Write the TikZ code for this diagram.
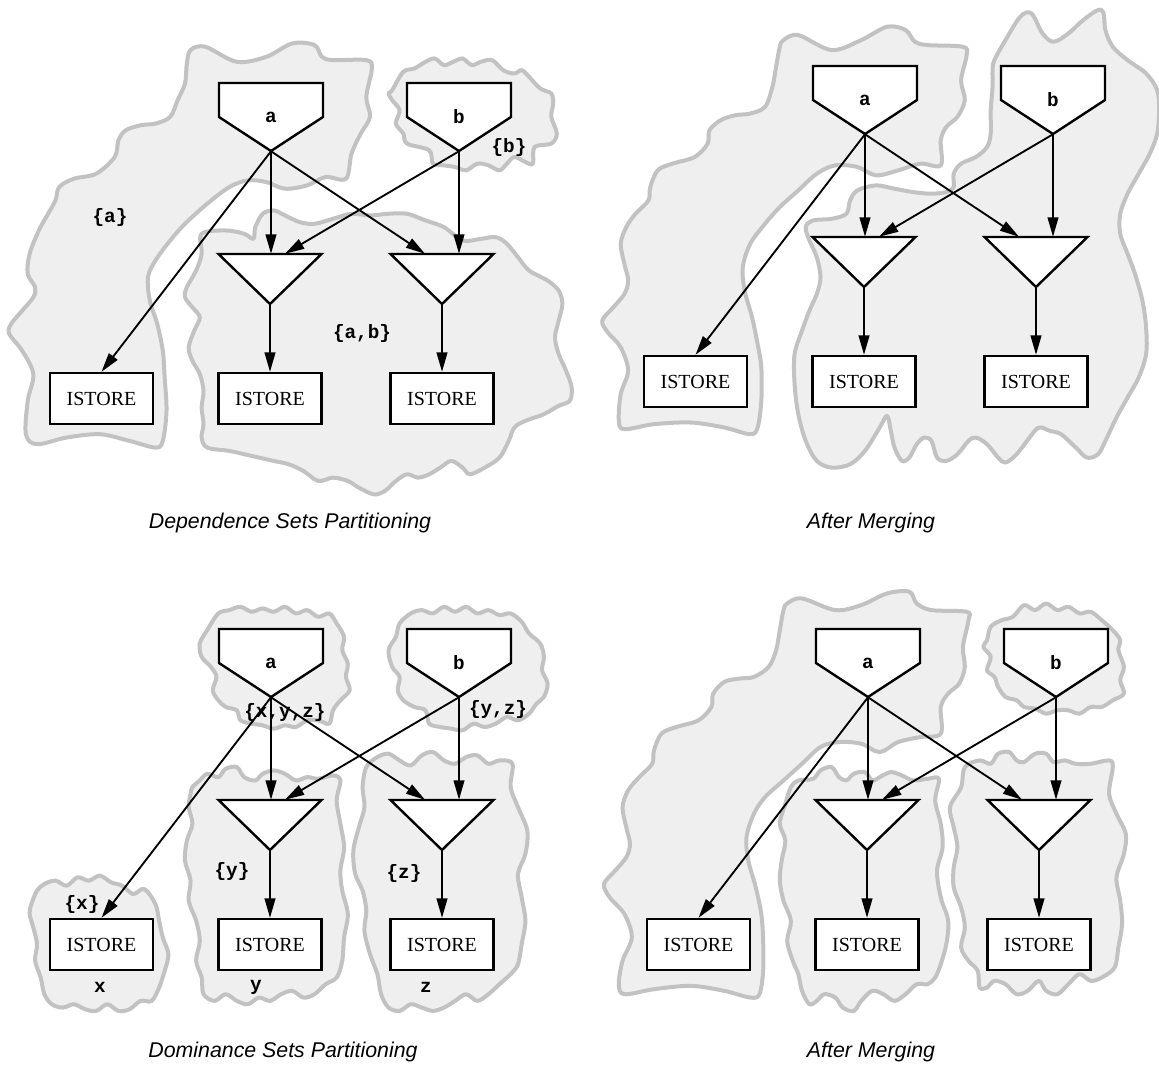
\documentclass[tikz,border=0pt]{standalone}
\usepackage{fontspec}
\usetikzlibrary{arrows.meta,calc}
\newfontfamily\courfont{Liberation Mono}
\newfontfamily\romfont{Liberation Serif}
\newfontfamily\capfont{Liberation Sans}
\definecolor{blobfill}{HTML}{EFEFEF}
\definecolor{blobline}{HTML}{C2C2C2}

\tikzset{
  blob/.style={draw=blobline, fill=blobfill, line width=3pt, line join=round},
  shapeline/.style={draw=black, fill=white, line width=1.8pt, line join=miter},
  housetext/.style={inner sep=0pt, minimum width=78pt, minimum height=51pt,
    font=\courfont\bfseries\fontsize{14.5pt}{16pt}\selectfont},
  tritext/.style={inner sep=0pt, minimum width=77.25pt, minimum height=37.5pt},
  storenode/.style={draw=black, fill=white, line width=1.8pt, inner sep=0pt,
    minimum width=77.25pt, minimum height=38.25pt,
    font=\romfont\fontsize{15pt}{17pt}\selectfont},
  edge/.style={draw=black, line width=1.4pt,
    -{Triangle[length=14.5pt,width=8pt]}},
  setlabel/.style={inner sep=0pt, font=\courfont\bfseries\fontsize{14.5pt}{16pt}\selectfont},
  caption/.style={inner sep=0pt, font=\capfont\itshape\fontsize{16pt}{18pt}\selectfont},
}

% inverted house (source) with its label; #1 name, #2/#3 centre, #4 text
\newcommand\housenode[4]{%
  \draw[shapeline] (#2-52,#3-34) -- (#2+52,#3-34) -- (#2+52,#3) -- (#2,#3+34) -- (#2-52,#3) -- cycle;
  \node[housetext] (#1) at (#2,#3) {#4};}
% downward triangle; #1 name, #2/#3 centre
\newcommand\trinode[3]{%
  \draw[shapeline] (#2-51.5,#3-25) -- (#2+51.5,#3-25) -- (#2,#3+25) -- cycle;
  \node[tritext] (#1) at (#2,#3) {};}

% the graph itself, node names prefixed by #1
\newcommand\depgraph[1]{%
  \housenode{#1a}{271}{117}{a}
  \housenode{#1b}{459}{117}{b}
  \trinode{#1t1}{270}{279}
  \trinode{#1t2}{442}{279}
  \node[storenode] (#1s1) at (101.5,398.5) {ISTORE};
  \node[storenode] (#1s2) at (270,398.5) {ISTORE};
  \node[storenode] (#1s3) at (442,398.5) {ISTORE};
  \draw[edge] (#1a.south) -- (#1a.south |- #1t1.north);
  \draw[edge] (#1a.south) -- ($(#1t2.north)+(-17,0)$);
  \draw[edge] (#1b.south) -- ($(#1t1.north)+(15,0)$);
  \draw[edge] (#1b.south) -- (#1b.south |- #1t2.north);
  \draw[edge] (#1a.south) -- (#1s1.north);
  \draw[edge] (#1t1.south) -- (#1s2.north);
  \draw[edge] (#1t2.south) -- (#1s3.north);
}

\begin{document}
\begin{tikzpicture}[x=0.75pt, y=-0.75pt]
\useasboundingbox (0,0) rectangle (1159,1072);

% ---------- upper left: dependence sets ----------
\begin{scope}[xscale=0.37, yscale=0.334]
  \draw[blob] plot[smooth cycle, tension=0.55] coordinates {
    (515,150) (555,140) (640,185) (720,170) (790,130) (850,135) (870,170) (900,180)
    (990,180) (1005,205) (990,290) (1000,350) (975,400) (950,460) (935,535) (880,530)
    (830,555) (770,565) (720,545) (670,540) (620,560) (560,610) (500,670) (460,720)
    (420,780) (400,830) (405,900) (425,970) (440,1050) (445,1130) (450,1230) (440,1320)
    (420,1340) (350,1320) (270,1300) (180,1310) (100,1330) (70,1300) (75,1200) (90,1120)
    (60,1050) (25,1000) (30,970) (60,930) (90,890) (95,860) (75,820) (80,760) (105,690)
    (130,640) (150,600) (160,560) (200,535) (260,520) (310,470) (320,420) (340,390)
    (380,375) (420,370) (460,350) (480,300) (500,250) (505,190)};
  \draw[blob] plot[smooth cycle, tension=0.55] coordinates {
    (1060,270) (1090,215) (1120,205) (1150,185) (1175,175) (1200,195) (1225,185)
    (1250,175) (1275,195) (1300,185) (1330,180) (1360,210) (1390,220) (1410,210)
    (1430,230) (1460,265) (1490,280) (1495,310) (1490,350) (1505,400) (1490,430)
    (1445,440) (1440,490) (1420,485) (1390,470) (1370,490) (1350,510) (1320,495)
    (1290,490) (1260,510) (1230,500) (1200,495) (1170,490) (1160,450) (1100,430)
    (1090,400) (1070,370) (1080,330) (1060,300) (1050,280)};
  \draw[blob] plot[smooth cycle, tension=0.55] coordinates {
    (545,700) (610,690) (660,700) (685,715) (690,680) (710,640) (740,630) (770,645)
    (810,665) (850,670) (900,655) (950,640) (1000,645) (1050,640) (1100,640) (1150,660)
    (1200,680) (1250,720) (1300,715) (1340,710) (1370,730) (1400,770) (1430,810)
    (1480,840) (1510,870) (1520,910) (1510,960) (1500,1010) (1510,1060) (1530,1110)
    (1545,1160) (1540,1200) (1510,1215) (1470,1240) (1420,1260) (1390,1280) (1375,1320)
    (1350,1370) (1310,1400) (1270,1420) (1250,1400) (1220,1380) (1190,1400) (1160,1420)
    (1130,1430) (1100,1420) (1070,1440) (1040,1470) (1010,1480) (970,1460) (940,1440)
    (900,1430) (860,1440) (820,1410) (780,1390) (740,1380) (700,1370) (660,1360)
    (620,1350) (560,1340) (545,1310) (550,1270) (545,1220) (550,1170) (540,1120)
    (520,1080) (510,1040) (525,990) (540,950) (520,920) (500,890) (505,860) (530,810)
    (545,760)};
\end{scope}
\depgraph{p}
\node[setlabel] (pseta) at (110,217) {\{a\}};
\node[setlabel] (psetb) at (509,147) {\{b\}};
\node[setlabel] (psetab) at (362,333) {\{a,b\}};
\node[caption] (pcap) at (290,523) {Dependence Sets Partitioning};

% ---------- upper right: after merging ----------
\begin{scope}[shift={(580,0)}, xscale=0.37, yscale=0.334]
  \draw[blob] plot[smooth cycle, tension=0.55] coordinates {
    (550,120) (590,105) (680,150) (760,120) (830,80) (880,90) (905,125) (940,135)
    (1035,140) (1045,165) (1030,240) (1040,300) (1020,350) (990,380) (975,420) (975,495)
    (920,490) (860,510) (800,525) (750,500) (690,495) (640,520) (590,570) (540,620)
    (500,670) (460,730) (440,800) (445,870) (465,950) (480,1030) (490,1100) (490,1200)
    (480,1280) (460,1300) (390,1280) (300,1265) (200,1270) (120,1285) (105,1260)
    (110,1180) (130,1110) (110,1040) (75,995) (60,960) (90,920) (120,880) (130,840)
    (120,790) (110,730) (125,680) (150,640) (185,600) (190,560) (210,510) (250,490)
    (310,470) (345,430) (350,390) (380,360) (420,345) (460,340) (500,320) (520,260)
    (530,200) (540,140)};
  \draw[blob] plot[smooth cycle, tension=0.55] coordinates {
    (1120,180) (1150,120) (1190,50) (1220,40) (1250,100) (1280,125) (1320,100)
    (1360,60) (1400,30) (1415,40) (1420,90) (1440,140) (1480,180) (1530,220) (1560,270)
    (1565,330) (1560,400) (1540,460) (1510,520) (1480,580) (1460,640) (1460,700)
    (1480,760) (1500,820) (1520,900) (1530,980) (1530,1060) (1510,1130) (1480,1190)
    (1450,1250) (1420,1320) (1400,1360) (1370,1370) (1340,1340) (1300,1300) (1270,1290)
    (1240,1280) (1215,1310) (1180,1360) (1150,1385) (1130,1370) (1100,1330) (1070,1310)
    (1050,1320) (1020,1360) (990,1380) (965,1370) (950,1320) (930,1310) (910,1330)
    (890,1370) (870,1380) (850,1340) (840,1290) (830,1245) (810,1280) (770,1350)
    (730,1390) (680,1400) (640,1380) (610,1320) (590,1240) (580,1150) (580,1060)
    (600,990) (620,930) (640,880) (650,830) (640,770) (620,720) (610,680) (630,660)
    (680,655) (720,640) (730,600) (750,570) (800,555) (850,565) (900,575) (950,580)
    (990,575) (1010,560) (1010,520) (1030,490) (1070,470) (1100,440) (1110,400)
    (1110,330) (1115,260) (1115,210)};
\end{scope}
\begin{scope}[shift={(594,-17)}]
  \depgraph{q}
\end{scope}
\node[caption] (qcap) at (871,523) {After Merging};

% ---------- lower left: dominance sets ----------
\begin{scope}[shift={(0,560)}, xscale=0.37, yscale=0.334]
  \draw[blob] plot[smooth cycle, tension=0.55] coordinates {
    (540,250) (560,210) (590,160) (620,150) (650,140) (680,155) (710,145) (740,155)
    (770,140) (800,160) (830,150) (860,170) (890,160) (910,190) (930,230) (925,270)
    (940,310) (935,350) (945,390) (920,420) (900,450) (890,490) (860,480) (830,480)
    (800,500) (770,495) (740,505) (710,495) (680,490) (650,480) (640,450) (610,440)
    (590,420) (575,390) (585,350) (570,320) (545,290)};
  \draw[blob] plot[smooth cycle, tension=0.55] coordinates {
    (1050,270) (1070,230) (1080,190) (1110,160) (1140,150) (1170,160) (1200,140)
    (1230,155) (1260,140) (1290,160) (1320,150) (1350,165) (1380,160) (1410,185)
    (1430,220) (1460,250) (1470,290) (1465,330) (1480,370) (1470,410) (1450,430)
    (1430,460) (1400,480) (1370,470) (1340,490) (1310,500) (1280,490) (1250,510)
    (1220,505) (1190,500) (1160,490) (1150,450) (1120,440) (1090,420) (1075,390)
    (1080,350) (1060,320)};
  \draw[blob] plot[smooth cycle, tension=0.55] coordinates {
    (520,680) (540,660) (560,640) (590,650) (610,625) (640,620) (660,650) (690,660)
    (710,640) (740,630) (770,640) (800,660) (830,650) (860,655) (900,645) (920,660)
    (910,720) (920,790) (930,860) (920,930) (925,990) (940,1060) (930,1130) (925,1200)
    (910,1250) (880,1270) (850,1300) (820,1310) (790,1290) (760,1300) (730,1320)
    (700,1310) (670,1330) (640,1320) (610,1300) (580,1320) (550,1300) (545,1250)
    (530,1200) (540,1140) (530,1080) (510,1020) (515,960) (500,900) (505,840) (520,790)
    (510,740) (515,700)};
  \draw[blob] plot[smooth cycle, tension=0.55] coordinates {
    (990,620) (1020,590) (1050,580) (1080,600) (1110,615) (1140,585) (1170,575)
    (1200,600) (1230,610) (1260,590) (1290,585) (1320,610) (1350,600) (1385,610)
    (1380,680) (1400,740) (1425,810) (1420,880) (1400,940) (1410,1010) (1420,1080)
    (1410,1150) (1400,1210) (1380,1240) (1350,1270) (1320,1300) (1290,1320) (1260,1300)
    (1230,1320) (1200,1340) (1170,1350) (1140,1340) (1110,1330) (1080,1350) (1050,1340)
    (1030,1300) (1020,1240) (1000,1180) (985,1110) (990,1050) (980,990) (960,940)
    (955,870) (970,800) (985,740) (980,680)};
  \draw[blob] plot[smooth cycle, tension=0.55] coordinates {
    (85,1030) (100,990) (120,970) (150,960) (180,975) (210,950) (240,960) (270,945)
    (300,965) (330,975) (360,1000) (390,985) (420,1030) (430,1080) (440,1130) (455,1180)
    (445,1230) (430,1280) (410,1320) (380,1320) (350,1345) (320,1350) (290,1330)
    (260,1350) (230,1345) (200,1330) (170,1340) (140,1330) (120,1300) (110,1250)
    (95,1200) (100,1150) (90,1100) (80,1060)};
\end{scope}
\begin{scope}[shift={(0,546)}]
  \depgraph{r}
\end{scope}
\node[setlabel] (rsetxyz) at (285,712) {\{x,y,z\}};
\node[setlabel] (rsetyz) at (498,709) {\{y,z\}};
\node[setlabel] (rsety) at (232,871) {\{y\}};
\node[setlabel] (rsetz) at (404,873) {\{z\}};
\node[setlabel] (rsetx) at (82,904) {\{x\}};
\node[setlabel] (rnamex) at (100,987) {x};
\node[setlabel] (rnamey) at (256,987) {y};
\node[setlabel] (rnamez) at (426,987) {z};
\node[caption] (rcap) at (283,1052) {Dominance Sets Partitioning};

% ---------- lower right: after merging ----------
\begin{scope}[shift={(580,560)}, xscale=0.37, yscale=0.334]
  \draw[blob] plot[smooth cycle, tension=0.55] coordinates {
    (560,130) (600,115) (690,150) (760,135) (830,100) (890,95) (910,130) (950,150)
    (1045,155) (1050,180) (1035,260) (1040,320) (1025,370) (995,400) (975,440) (975,520)
    (920,530) (860,545) (810,575) (760,550) (700,545) (650,560) (600,610) (550,660)
    (500,710) (470,760) (450,830) (455,900) (475,980) (490,1060) (495,1140) (495,1230)
    (485,1300) (460,1310) (390,1290) (300,1275) (200,1285) (120,1300) (105,1270)
    (115,1200) (140,1130) (120,1060) (80,1010) (65,970) (95,930) (125,890) (135,850)
    (125,800) (115,740) (130,690) (160,650) (195,610) (200,570) (220,520) (260,500)
    (320,480) (355,440) (360,400) (390,365) (430,355) (470,350) (510,320) (530,270)
    (540,210) (550,150)};
  \draw[blob] plot[smooth cycle, tension=0.55] coordinates {
    (1100,240) (1110,200) (1140,180) (1170,170) (1200,135) (1230,150) (1260,130)
    (1290,150) (1320,140) (1350,160) (1380,155) (1410,180) (1440,210) (1460,240)
    (1455,270) (1470,320) (1460,360) (1470,400) (1440,420) (1410,440) (1380,440)
    (1350,460) (1320,450) (1290,450) (1260,460) (1230,445) (1200,440) (1180,420)
    (1150,410) (1130,380) (1120,350) (1100,330) (1110,290) (1090,260)};
  \draw[blob] plot[smooth cycle, tension=0.55] coordinates {
    (570,680) (590,660) (630,655) (650,630) (680,620) (700,650) (720,660) (740,640)
    (770,635) (790,660) (810,650) (840,635) (870,645) (900,660) (940,655) (970,655)
    (960,720) (975,790) (980,860) (965,930) (975,1010) (995,1080) (990,1150) (975,1210)
    (960,1250) (940,1270) (910,1270) (880,1300) (850,1320) (820,1300) (790,1290)
    (760,1320) (740,1350) (710,1340) (690,1310) (660,1300) (640,1320) (620,1330)
    (600,1290) (590,1240) (575,1200) (560,1140) (570,1080) (550,1020) (540,960)
    (545,900) (555,840) (540,790) (555,730)};
  \draw[blob] plot[smooth cycle, tension=0.55] coordinates {
    (1040,620) (1080,600) (1110,610) (1130,580) (1160,575) (1180,600) (1200,605)
    (1230,580) (1260,580) (1280,605) (1310,600) (1340,610) (1380,610) (1430,600)
    (1440,620) (1430,700) (1450,760) (1475,820) (1470,880) (1450,950) (1460,1020)
    (1465,1090) (1455,1160) (1445,1220) (1410,1250) (1380,1260) (1350,1240) (1320,1270)
    (1290,1300) (1260,1290) (1240,1260) (1210,1290) (1180,1300) (1150,1270) (1120,1260)
    (1100,1280) (1080,1280) (1075,1230) (1050,1200) (1030,1160) (1040,1100) (1030,1040)
    (1010,980) (1010,920) (1020,860) (1010,800) (1000,740) (1030,680)};
\end{scope}
\begin{scope}[shift={(597,546)}]
  \depgraph{s}
\end{scope}
\node[caption] (scap) at (871,1052) {After Merging};
\end{tikzpicture}
\end{document}
